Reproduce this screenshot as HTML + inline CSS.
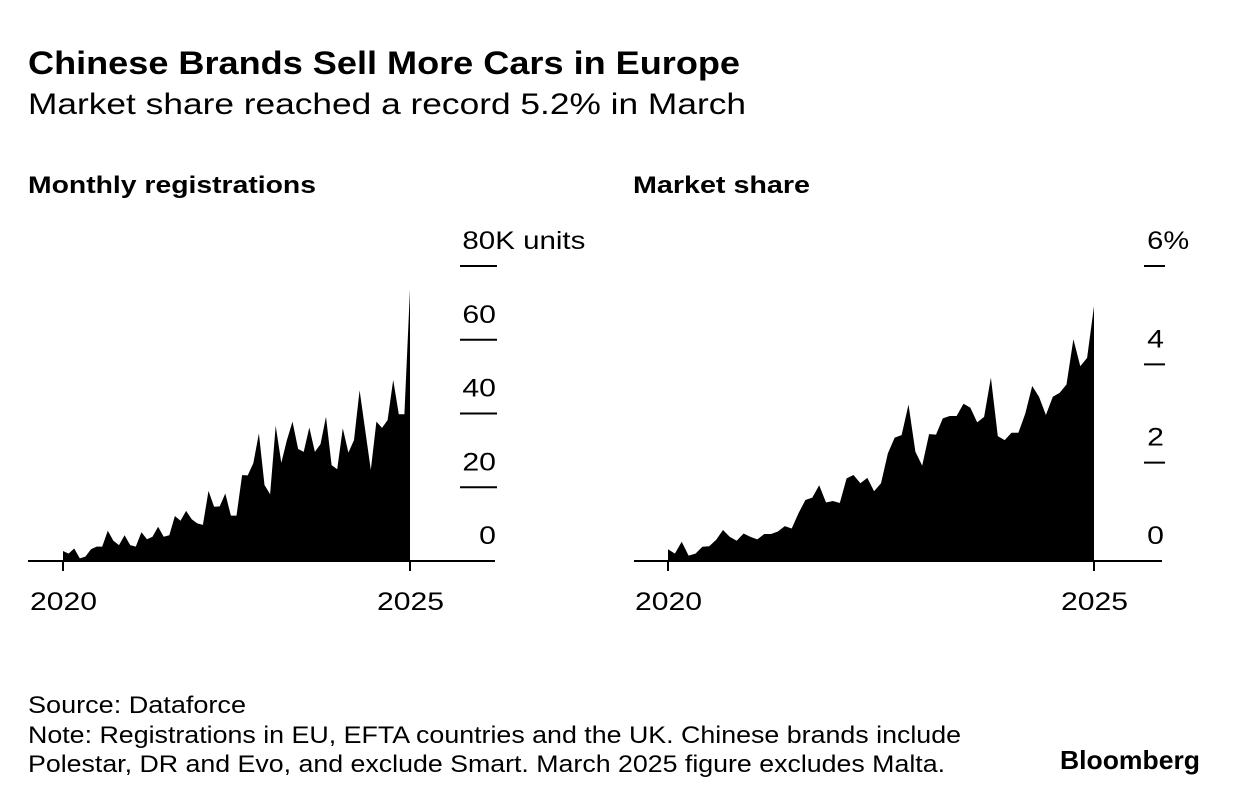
<!DOCTYPE html>
<html><head><meta charset="utf-8"><style>
body{margin:0;width:1240px;height:804px;background:#fff;font-family:"Liberation Sans",sans-serif;color:#000;overflow:hidden}
svg{position:absolute;left:0;top:0}
</style></head><body>
<svg width="1240" height="804" id="svg">
<text x="28" y="74" font-size="32" font-weight="bold" textLength="712" lengthAdjust="spacingAndGlyphs">Chinese Brands Sell More Cars in Europe</text>
<text x="28" y="114" font-size="30" textLength="718" lengthAdjust="spacingAndGlyphs">Market share reached a record 5.2% in March</text>
<text x="28" y="193" font-size="24" font-weight="bold" textLength="288" lengthAdjust="spacingAndGlyphs">Monthly registrations</text>
<text x="633" y="193" font-size="24" font-weight="bold" textLength="177" lengthAdjust="spacingAndGlyphs">Market share</text>
<g id="left"></g>
<g id="right"></g>
<text x="28" y="713" font-size="24" textLength="218" lengthAdjust="spacingAndGlyphs">Source: Dataforce</text>
<text x="28" y="743" font-size="24" textLength="933" lengthAdjust="spacingAndGlyphs">Note: Registrations in EU, EFTA countries and the UK. Chinese brands include</text>
<text x="28" y="772" font-size="24" textLength="917" lengthAdjust="spacingAndGlyphs">Polestar, DR and Evo, and exclude Smart. March 2025 figure excludes Malta.</text>
<text x="1060" y="769" font-size="26" font-weight="bold" textLength="140" lengthAdjust="spacingAndGlyphs">Bloomberg</text>
</svg>
<script>
const regValues=[2.7,2.0,3.4,0.7,1.2,3.2,3.9,3.9,8.2,5.5,4.3,7.0,4.3,3.9,7.8,5.9,6.6,9.3,6.6,7.0,12.2,10.9,13.6,11.3,10.2,9.8,19.0,14.7,14.8,18.3,12.3,12.3,23.3,23.2,26.5,34.6,20.6,18.1,36.7,26.6,32.8,37.8,30.4,29.6,36.2,29.6,31.7,39.1,26.0,24.9,36.0,29.4,32.8,46.3,35.5,24.7,37.8,36.1,38.2,49.1,39.8,39.8,73.7];
const shareValues=[0.24,0.15,0.39,0.11,0.15,0.29,0.30,0.43,0.63,0.49,0.41,0.56,0.49,0.44,0.55,0.55,0.60,0.71,0.66,0.97,1.24,1.29,1.54,1.19,1.22,1.18,1.68,1.75,1.58,1.69,1.42,1.58,2.19,2.51,2.56,3.18,2.22,1.94,2.58,2.57,2.90,2.95,2.95,3.20,3.12,2.82,2.93,3.73,2.54,2.46,2.61,2.61,3.00,3.56,3.34,2.97,3.34,3.42,3.59,4.51,3.96,4.13,5.18];
const regTicks=[0,20,40,60,80];
const shareTicks=[0,2,4,6];
const yearLabels=["2020","2025"];
const yearIdx=[0,62];
const NS="http://www.w3.org/2000/svg";
const CW=16.8;
function mk(t,a,p){const e=document.createElementNS(NS,t);for(const k in a)e.setAttribute(k,a[k]);p.appendChild(e);return e;}
function panel(g,vals,ticks,max,x0,x1,axL,axR,tickX1,tickX2,numRight,topSuffix,topLen,name){
  const y0=561,yTop=266;
  const xs=i=>x0+(x1-x0)*i/(vals.length-1);
  const ys=v=>y0-(y0-yTop)*v/max;
  let d="M"+xs(0)+","+y0;
  vals.forEach((v,i)=>{d+=" L"+xs(i).toFixed(1)+","+ys(v).toFixed(1);});
  d+=" L"+xs(vals.length-1)+","+y0+" Z";
  const a=mk("path",{d:d,fill:"#000"},g);
  
  
  const ax=mk("line",{x1:axL,x2:axR,y1:y0,y2:y0,stroke:"#000","stroke-width":2},g);
  
  
  ticks.forEach((t,k)=>{
    const y=ys(t);
    if(t>0){const l=mk("line",{x1:tickX1,x2:tickX2,y1:y,y2:y,stroke:"#000","stroke-width":2},g);
      
      }
    const s=String(t);
    const w=s.length*CW;
    const top=k===ticks.length-1;
    const tx=mk("text",{x:numRight-w,y:y-17,"font-size":25,"lengthAdjust":"spacingAndGlyphs",textLength:top?topLen:w},g);
    
    
    tx.textContent=top?s+topSuffix:s;
  });
  yearIdx.forEach((idx,k)=>{
    const x=xs(idx);
    const l=mk("line",{x1:x,x2:x,y1:y0,y2:y0+10,stroke:"#000","stroke-width":2},g);
    
    
    const t=mk("text",{x:x-33,y:y0+49,"font-size":25,textLength:67,"lengthAdjust":"spacingAndGlyphs"},g);
    
    
    t.textContent=yearLabels[k];
  });
}
panel(document.getElementById("left"),regValues,regTicks,80,63,410,28,495,460,497,496,"K units",123,"registrations");
panel(document.getElementById("right"),shareValues,shareTicks,6,668,1094,634,1162,1144,1165,1164,"%",42,"market-share");
</script>
</body></html>
